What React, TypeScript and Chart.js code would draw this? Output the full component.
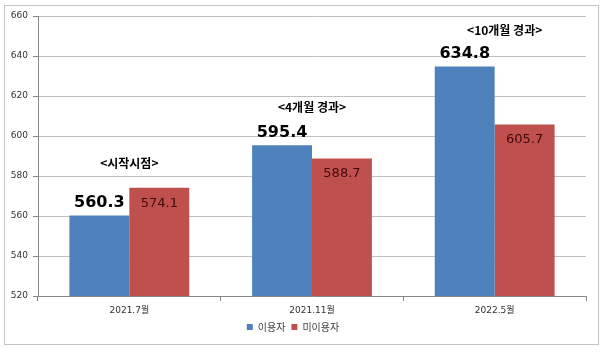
import React, { useEffect, useRef } from "react";
import { Chart, registerables } from "chart.js";

Chart.register(...registerables);

const categories = ["2021.7월", "2021.11월", "2022.5월"];
const seriesNames = ["이용자", "미이용자"];
const userValues = [560.3, 595.4, 634.8];
const nonUserValues = [574.1, 588.7, 605.7];
const stageLabels = ["<시작시점>", "<4개월 경과>", "<10개월 경과>"];
const yMin = 520;
const yMax = 660;
const yStep = 20;

const BLUE = "#4F81BD";
const RED = "#C0504D";

// offsets (px) of the stage annotations above the blue bar top, and x shift
const stageDy = [52, 38, 36];
const stageDx = [0, 0, 10];

const labelPlugin = {
  id: "valueLabels",
  afterDatasetsDraw(chart: any) {
    const ctx = chart.ctx;
    const m0 = chart.getDatasetMeta(0);
    const m1 = chart.getDatasetMeta(1);
    ctx.save();
    m0.data.forEach((bar: any, i: number) => {
      ctx.font = "bold 16px 'DejaVu Sans'";
      ctx.fillStyle = "#000000";
      ctx.textAlign = "center";
      ctx.textBaseline = "alphabetic";
      ctx.fillText(userValues[i].toFixed(1), bar.x, bar.y - 8);
      const rb = m1.data[i];
      ctx.font = "13px 'DejaVu Sans'";
      ctx.fillStyle = "#3f0808";
      ctx.textBaseline = "top";
      ctx.fillText(nonUserValues[i].toFixed(1), rb.x, rb.y + 9);
      const cx = (bar.x + rb.x) / 2 + stageDx[i];
      ctx.font = "bold 12px 'Noto Sans CJK KR'";
      ctx.fillStyle = "#000000";
      ctx.textBaseline = "middle";
      ctx.fillText(stageLabels[i], cx, bar.y - stageDy[i]);
    });
    ctx.restore();
  },
};

export default function App() {
  const ref = useRef<HTMLCanvasElement | null>(null);
  useEffect(() => {
    if (!ref.current) return;
    const font = "'DejaVu Sans', 'Noto Sans CJK KR', sans-serif";
    const chart = new Chart(ref.current, {
      type: "bar",
      data: {
        labels: categories,
        datasets: [
          {
            label: seriesNames[0],
            data: userValues,
            backgroundColor: BLUE,
            categoryPercentage: 0.656,
            barPercentage: 1,
          },
          {
            label: seriesNames[1],
            data: nonUserValues,
            backgroundColor: RED,
            categoryPercentage: 0.656,
            barPercentage: 1,
          },
        ],
      },
      options: {
        responsive: false,
        animation: false,
        layout: { padding: { top: 16, right: 14, bottom: 13, left: 0 } },
        plugins: {
          tooltip: { enabled: false },
          legend: {
            position: "bottom",
            labels: {
              boxWidth: 6,
              boxHeight: 6,
              padding: 6,
              color: "#404040",
              font: { size: 10, family: "'Noto Sans CJK KR', sans-serif" },
            },
          },
        },
        scales: {
          x: {
            grid: {
              drawOnChartArea: false,
              drawTicks: true,
              tickLength: 5,
              color: "#868686",
              offset: true,
            },
            border: { color: "#868686" },
            ticks: {
              color: "#303030",
              padding: 4,
              maxRotation: 0,
              font: { size: 9, family: font },
            },
            afterFit(scale: any) {
              scale.height = 20;
            },
          },
          y: {
            min: yMin,
            max: yMax,
            grid: {
              color: "#c0c0c0",
              tickLength: 5,
              tickColor: "#868686",
            },
            border: { color: "#868686" },
            ticks: {
              stepSize: yStep,
              color: "#303030",
              padding: 5,
              font: { size: 9, family: font },
            },
            afterFit(scale: any) {
              scale.width = 38;
            },
          },
        },
      },
      plugins: [labelPlugin],
    });
    return () => chart.destroy();
  }, []);

  return (
    <div
      style={{
        position: "absolute",
        left: 0,
        top: 0,
        width: 600,
        height: 355,
        background: "#ffffff",
        overflow: "hidden",
      }}
    >
      <div
        style={{
          position: "absolute",
          left: 4,
          top: 5,
          width: 595,
          height: 340,
          border: "1px solid #c4c4c4",
          boxSizing: "border-box",
        }}
      />
      <canvas
        ref={ref}
        width={600}
        height={355}
        style={{ position: "absolute", left: 0, top: 0, display: "block" }}
      />
    </div>
  );
}
